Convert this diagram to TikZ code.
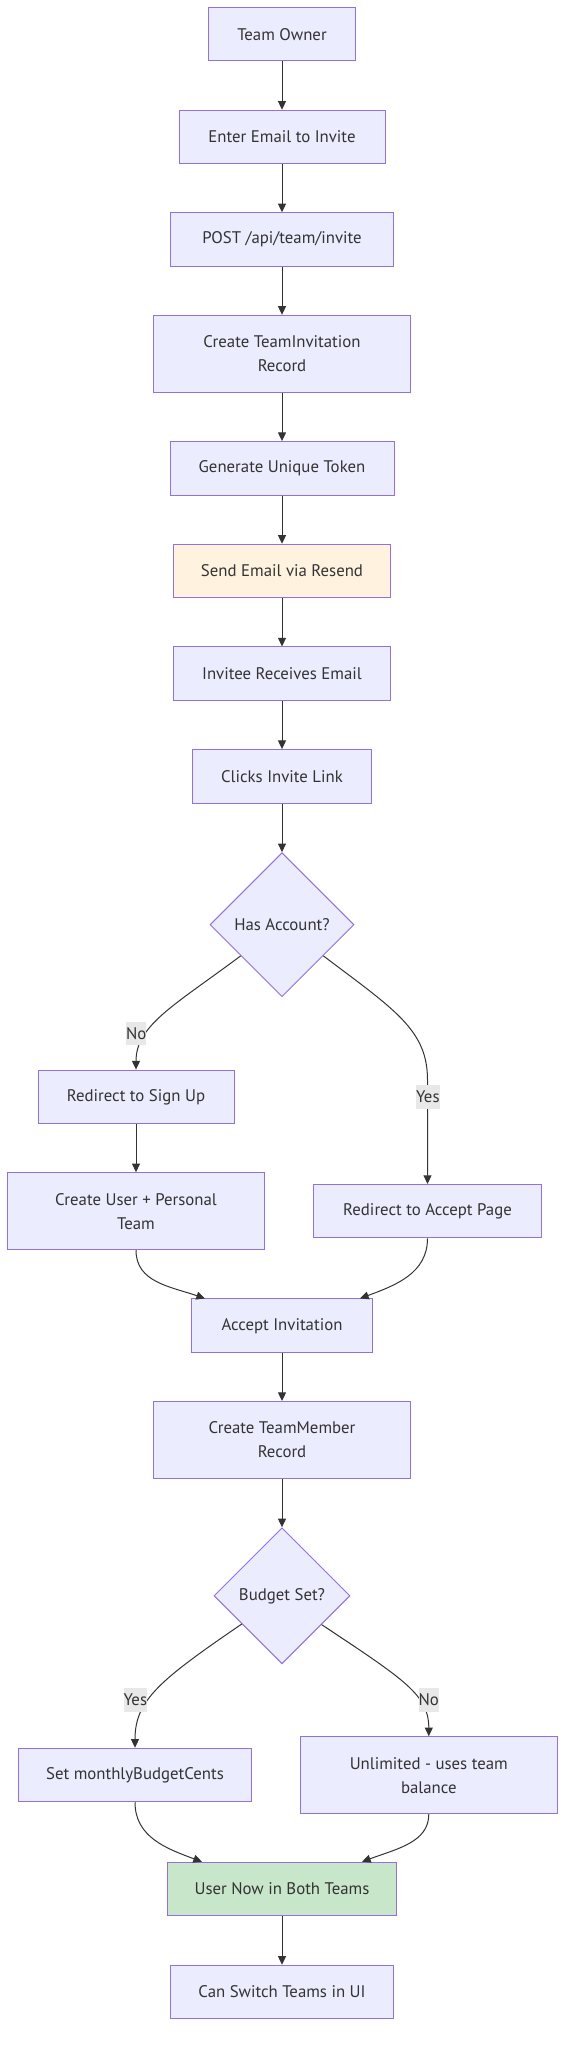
\documentclass[tikz,border=0pt]{standalone}
\usepackage{fontspec}
\setmainfont{PT Sans}
\usepackage{xcolor}
\usetikzlibrary{arrows.meta,shapes.geometric,calc}

\definecolor{nodefill}{HTML}{ECECFF}
\definecolor{nodeline}{HTML}{9370DB}
\definecolor{edgeline}{HTML}{333333}
\definecolor{textgrey}{HTML}{333333}
\definecolor{mailfill}{HTML}{FFF3E0}
\definecolor{donefill}{HTML}{C8E6C9}
\definecolor{labelfill}{HTML}{E8E8E8}

\tikzset{
  flowbox/.style={draw=nodeline, fill=nodefill, line width=0.75pt, text=textgrey,
    align=center, inner sep=0pt, minimum height=40.1pt, minimum width=#1*0.75pt},
  tallbox/.style={minimum height=57.75pt},
  choice/.style={diamond, aspect=1, draw=nodeline, fill=nodefill, line width=0.75pt,
    text=textgrey, inner sep=0pt, minimum width=#1*0.75pt, minimum height=#1*0.75pt},
  edgelabel/.style={fill=labelfill, text=textgrey, inner sep=0pt, minimum height=17.5pt},
  flow/.style={draw=edgeline, line width=0.75pt, -{Triangle[length=6.5pt,width=6pt]}},
}

\begin{document}
\begin{tikzpicture}[x=0.75pt,y=-0.75pt,font=\fontsize{12.6pt}{18pt}\selectfont]
\useasboundingbox (0,0) rectangle (573,2055);

\node[flowbox=147] (owner) at (282,34.2) {Team Owner};
\node[flowbox=206] (email) at (282,137) {Enter Email to Invite};
\node[flowbox=223] (post) at (282,239.5) {POST /api/team/invite};
\node[flowbox=257,tallbox] (record) at (282,353.8) {Create TeamInvitation\\Record};
\node[flowbox=224] (token) at (282,468.3) {Generate Unique Token};
\node[flowbox=217,fill=mailfill] (resend) at (282,571) {Send Email via Resend};
\node[flowbox=217] (receive) at (282,673.7) {Invitee Receives Email};
\node[flowbox=179] (link) at (282,776.3) {Clicks Invite Link};
\node[choice=144] (account) at (282,924.7) {Has Account?};
\node[flowbox=196] (signup) at (136,1096.8) {Redirect to Sign Up};
\node[flowbox=257,tallbox] (newuser) at (136,1211.2) {Create User + Personal\\Team};
\node[flowbox=228] (acceptpage) at (427.5,1211.2) {Redirect to Accept Page};
\node[flowbox=181] (accept) at (282,1325.7) {Accept Invitation};
\node[flowbox=257,tallbox] (member) at (282,1440) {Create TeamMember\\Record};
\node[choice=136] (budget) at (282,1595.8) {Budget Set?};
\node[flowbox=233] (cents) at (135,1775) {Set monthlyBudgetCents};
\node[flowbox=257,tallbox] (unlimited) at (428.8,1775.2) {Unlimited - uses team\\balance};
\node[flowbox=229,fill=donefill] (both) at (282,1889) {User Now in Both Teams};
\node[flowbox=223] (switch) at (282,1992) {Can Switch Teams in UI};

\foreach \a/\b in {owner/email,email/post,post/record,record/token,token/resend,
    resend/receive,receive/link,link/account,signup/newuser,accept/member,
    member/budget,both/switch} {
    \draw[flow] (\a) -- (\b);
}
\draw[flow] (account.-143) .. controls (175,1005) and (136,1025) .. (signup.north);
\draw[flow] (account.-37) .. controls (395,1010) and (427.5,1030) .. (427.5,1080) -- (acceptpage.north);
\draw[flow] (newuser.south) .. controls +(0,32) and +(-35,-12) .. ($(accept.north)+(-77,0)$);
\draw[flow] (acceptpage.south) .. controls +(0,35) and +(35,-13) .. ($(accept.north)+(78,0)$);
\draw[flow] (budget.-145) .. controls (160,1680) and (135,1700) .. (cents.north);
\draw[flow] (budget.-36) .. controls (405,1680) and (428.8,1695) .. (unlimited.north);
\draw[flow] (cents.south) .. controls +(0,35) and +(-35,-13) .. ($(both.north)+(-80,0)$);
\draw[flow] (unlimited.south) .. controls +(0,28) and +(35,-13) .. ($(both.north)+(80,0)$);

\node[edgelabel] (noacct) at (136.3,1033.7) {No};
\node[edgelabel] (yesacct) at (427.8,1097) {Yes};
\node[edgelabel] (yesbudget) at (135.3,1700) {Yes};
\node[edgelabel] (nobudget) at (428.8,1700) {No};
\end{tikzpicture}
\end{document}
